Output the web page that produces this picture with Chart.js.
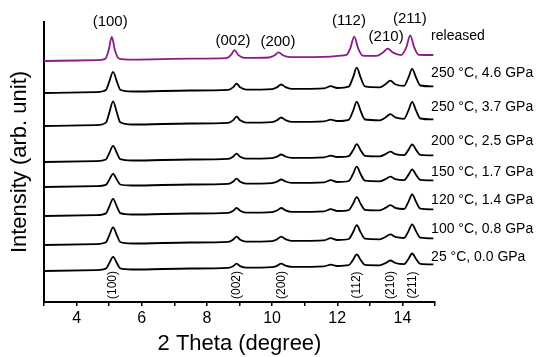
<!DOCTYPE html>
<html>
<head>
<meta charset="utf-8">
<script src="https://cdn.jsdelivr.net/npm/chart.js@4.4.1/dist/chart.umd.min.js"></script>
<style>
html,body{margin:0;padding:0;background:#fff;}
canvas{display:block;}
</style>
</head>
<body>
<canvas id="c" width="536" height="357"></canvas>
<script>
// ---------- DATA ----------
// 2-theta sampling of the pressed (black) patterns
const twoThetaPressed = [3.0, 4.6, 4.9, 5.0, 5.12, 5.24, 5.34, 5.7, 7.5, 8.65, 8.8, 8.91, 9.02, 9.2, 10.0, 10.15, 10.28, 10.41, 10.6, 11.6, 11.8, 12.0, 12.35, 12.48, 12.6, 12.72, 12.85, 13.3, 13.48, 13.63, 13.78, 14.05, 14.18, 14.3, 14.42, 14.55, 14.95];
// 2-theta sampling of the released (purple) pattern
const twoThetaReleased = [3.0, 4.6, 4.88, 4.98, 5.08, 5.18, 5.3, 5.7, 7.5, 8.6, 8.74, 8.85, 8.96, 9.15, 9.9, 10.07, 10.2, 10.33, 10.55, 11.8, 12.1, 12.28, 12.4, 12.52, 12.64, 12.78, 13.2, 13.4, 13.55, 13.7, 13.96, 14.12, 14.24, 14.36, 14.5, 14.95];

// intensities (arb. unit) relative to each pattern's own left baseline
const released = [0, 0.8, 2.1, 10.2, 24.0, 10.3, 2.4, 1.4, 2.3, 2.8, 6.1, 10.9, 6.2, 3.1, 3.5, 5.5, 8.6, 5.7, 3.8, 4.4, 5.4, 6.1, 12.7, 24.3, 12.8, 5.4, 5.1, 8.4, 12.3, 8.6, 5.9, 13.8, 25.6, 13.9, 6.2, 6.0];
const p250_46 = [0, 0.9, 3.0, 11.1, 21.2, 11.2, 3.3, 1.5, 2.5, 3.1, 5.6, 9.3, 5.7, 3.4, 3.9, 5.7, 8.5, 5.9, 4.2, 4.7, 6.8, 5.0, 6.3, 15.2, 25.3, 15.3, 6.6, 5.7, 8.7, 12.3, 8.8, 7.2, 15.1, 24.2, 15.3, 7.5, 6.6];
const p250_37 = [0, 0.9, 3.4, 12.9, 24.7, 13.0, 3.7, 1.5, 2.5, 3.1, 5.6, 9.3, 5.7, 3.4, 3.9, 5.7, 8.5, 5.9, 4.2, 4.7, 6.3, 5.0, 6.2, 14.7, 24.3, 14.8, 6.5, 5.7, 8.5, 11.8, 8.6, 7.2, 15.1, 24.2, 15.3, 7.5, 6.6];
const p200_25 = [0, 0.9, 2.5, 8.6, 16.2, 8.7, 2.8, 1.5, 2.5, 3.1, 5.2, 8.3, 5.3, 3.4, 3.9, 5.3, 7.5, 5.5, 4.2, 4.7, 6.3, 5.0, 5.9, 11.5, 17.8, 11.6, 6.2, 5.7, 7.8, 10.3, 7.9, 6.8, 11.9, 17.7, 12.1, 7.1, 6.6];
const p150_17 = [0, 0.9, 2.2, 7.1, 13.2, 7.2, 2.5, 1.5, 2.5, 3.1, 5.2, 8.3, 5.3, 3.4, 3.9, 5.3, 7.5, 5.5, 4.2, 4.7, 6.8, 5.0, 6.0, 12.7, 20.3, 12.8, 6.3, 5.7, 7.8, 10.3, 7.9, 6.8, 11.9, 17.7, 12.1, 7.1, 6.6];
const p120_14 = [0, 0.9, 2.6, 9.1, 17.2, 9.2, 2.9, 1.5, 2.5, 3.1, 5.1, 8.0, 5.2, 3.4, 3.9, 5.5, 8.0, 5.7, 4.2, 4.7, 6.8, 5.0, 5.9, 12.0, 18.8, 12.1, 6.2, 5.7, 8.1, 10.8, 8.2, 7.0, 13.9, 21.7, 14.1, 7.3, 6.6];
const p100_08 = [0, 0.9, 2.7, 9.4, 17.7, 9.5, 3.0, 1.5, 2.5, 3.1, 5.2, 8.3, 5.3, 3.4, 3.9, 5.6, 8.3, 5.8, 4.2, 4.7, 6.8, 5.0, 6.0, 12.5, 19.8, 12.6, 6.3, 5.7, 8.0, 10.6, 8.1, 7.0, 13.4, 20.7, 13.6, 7.3, 6.6];
const p25_00 = [0, 0.9, 2.3, 7.6, 14.2, 7.7, 2.6, 1.5, 2.5, 3.1, 4.8, 7.3, 4.9, 3.4, 3.9, 5.2, 7.3, 5.4, 4.2, 4.7, 6.3, 5.0, 5.8, 10.9, 16.6, 11.0, 6.1, 5.7, 7.9, 10.5, 8.0, 6.8, 11.8, 17.5, 12.0, 7.1, 6.6];

// vertical stacking offsets of each pattern (arb. unit)
const stackOffsets = [241, 209, 176, 140, 115, 86, 57, 31];
const seriesNames = ['released', '250 \u00B0C, 4.6 GPa', '250 \u00B0C, 3.7 GPa', '200 \u00B0C, 2.5 GPa', '150 \u00B0C, 1.7 GPa', '120 \u00B0C, 1.4 GPa', '100 \u00B0C, 0.8 GPa', '25 \u00B0C, 0.0 GPa'];
const hklLabels = ['(100)', '(002)', '(200)', '(112)', '(210)', '(211)'];
const hklPeaks = [5.12, 8.91, 10.28, 12.6, 13.63, 14.3];
const xTickLabels = [4, 6, 8, 10, 12, 14];

// ---------- LAYOUT (annotation anchors in data units) ----------
const topLabelAnchors = [[5.03, 280], [8.80, 261], [10.18, 260], [12.36, 281], [13.50, 265], [14.23, 283]];
const bottomLabelLevel = 17;
const legendX = 14.88;
const legendLevels = [266, 229.3, 194.7, 161, 130.3, 101.7, 73.3, 45];

const FONT = '"Liberation Sans", Arial, Helvetica, sans-serif';

const seriesValues = [released, p250_46, p250_37, p200_25, p150_17, p120_14, p100_08, p25_00];
const datasets = seriesValues.map((vals, i) => {
  const xs = i === 0 ? twoThetaReleased : twoThetaPressed;
  return {
    label: seriesNames[i],
    data: xs.map((x, k) => ({x: x, y: stackOffsets[i] + vals[k]})),
    borderColor: i === 0 ? '#8b1a8b' : '#000000',
    borderWidth: 1.8,
    pointRadius: 0,
    fill: false,
    cubicInterpolationMode: 'monotone'
  };
});

const annot = {
  id: 'annot',
  afterDraw(chart) {
    const {ctx} = chart;
    const xs = chart.scales.x, ys = chart.scales.y;
    ctx.save();
    ctx.fillStyle = '#000';
    ctx.textAlign = 'center';
    ctx.textBaseline = 'middle';
    ctx.font = '15px ' + FONT;
    hklLabels.forEach((t, i) => {
      ctx.fillText(t, xs.getPixelForValue(topLabelAnchors[i][0]), ys.getPixelForValue(topLabelAnchors[i][1]));
    });
    ctx.font = '12px ' + FONT;
    hklLabels.forEach((t, i) => {
      ctx.save();
      ctx.translate(xs.getPixelForValue(hklPeaks[i]), ys.getPixelForValue(bottomLabelLevel));
      ctx.rotate(-Math.PI / 2);
      ctx.fillText(t, 0, 0);
      ctx.restore();
    });
    ctx.font = '14px ' + FONT;
    ctx.textAlign = 'left';
    seriesNames.forEach((t, i) => {
      ctx.fillText(t, xs.getPixelForValue(legendX), ys.getPixelForValue(legendLevels[i]));
    });
    ctx.restore();
  }
};

new Chart(document.getElementById('c'), {
  type: 'line',
  data: {datasets: datasets},
  plugins: [annot],
  options: {
    responsive: false,
    devicePixelRatio: 1,
    animation: false,
    layout: {padding: {top: 22, right: 101, left: 0, bottom: 0}},
    plugins: {legend: {display: false}, tooltip: {enabled: false}},
    scales: {
      x: {
        type: 'linear',
        min: 3, max: 15,
        afterFit: s => { s.height = 55; },
        afterBuildTicks: s => { const t = []; for (let v = 3; v <= 15; v += 1) t.push({value: v}); s.ticks = t; },
        ticks: {
          autoSkip: false,
          maxRotation: 0,
          color: '#000',
          padding: 3,
          font: {size: 16, family: FONT},
          callback: v => xTickLabels.includes(v) ? String(v) : ''
        },
        grid: {display: true, drawOnChartArea: false, drawTicks: true, tickLength: 4, color: '#000', lineWidth: 1.5},
        border: {display: true, color: '#000', width: 2},
        title: {display: true, text: '2 Theta (degree)', color: '#000', font: {size: 22, family: FONT}, padding: {top: 0, bottom: 0}}
      },
      y: {
        type: 'linear',
        min: 0, max: 280,
        afterFit: s => { s.width = 44; },
        ticks: {display: false},
        grid: {display: false, drawTicks: false},
        border: {display: true, color: '#000', width: 2},
        title: {display: true, text: 'Intensity (arb. unit)', color: '#000', font: {size: 22, family: FONT}, padding: {top: 7, bottom: 0}}
      }
    }
  }
});
</script>
</body>
</html>
